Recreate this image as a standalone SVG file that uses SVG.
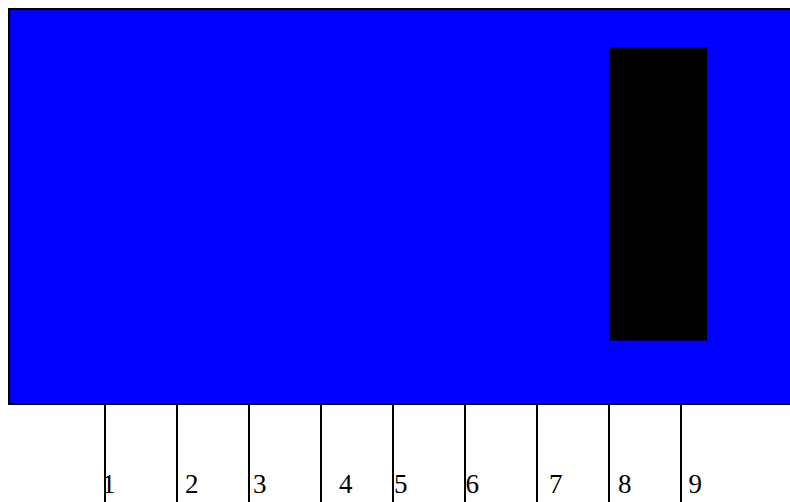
<svg xmlns="http://www.w3.org/2000/svg" width="790" height="502" viewBox="0 0 790 502">
<style>
.tick{stroke:#000;stroke-width:2;fill:none}
</style>
<rect width="790" height="502" fill="#fff"/>
<g id="panel">
<rect x="9" y="9" width="790" height="395" fill="#0000ff" stroke="#000" stroke-width="2"/>
</g>
<g id="block">
<rect x="609" y="47.5" width="98" height="293" fill="#000"/>
</g>
<g id="ticks">
<line class="tick" x1="105" y1="404" x2="105" y2="502"/>
<line class="tick" x1="177" y1="404" x2="177" y2="502"/>
<line class="tick" x1="249" y1="404" x2="249" y2="502"/>
<line class="tick" x1="321" y1="404" x2="321" y2="502"/>
<line class="tick" x1="393" y1="404" x2="393" y2="502"/>
<line class="tick" x1="465" y1="404" x2="465" y2="502"/>
<line class="tick" x1="537" y1="404" x2="537" y2="502"/>
<line class="tick" x1="609" y1="404" x2="609" y2="502"/>
<line class="tick" x1="681" y1="404" x2="681" y2="502"/>
</g>
<g id="labels" font-family="Liberation Serif, Times New Roman, serif" font-size="27" fill="#000">
<text x="102" y="493">1</text>
<text x="185" y="493">2</text>
<text x="253" y="493">3</text>
<text x="339" y="493">4</text>
<text x="394" y="493">5</text>
<text x="465.5" y="493">6</text>
<text x="549" y="493">7</text>
<text x="618" y="493">8</text>
<text x="688.5" y="493">9</text>
</g>
</svg>
